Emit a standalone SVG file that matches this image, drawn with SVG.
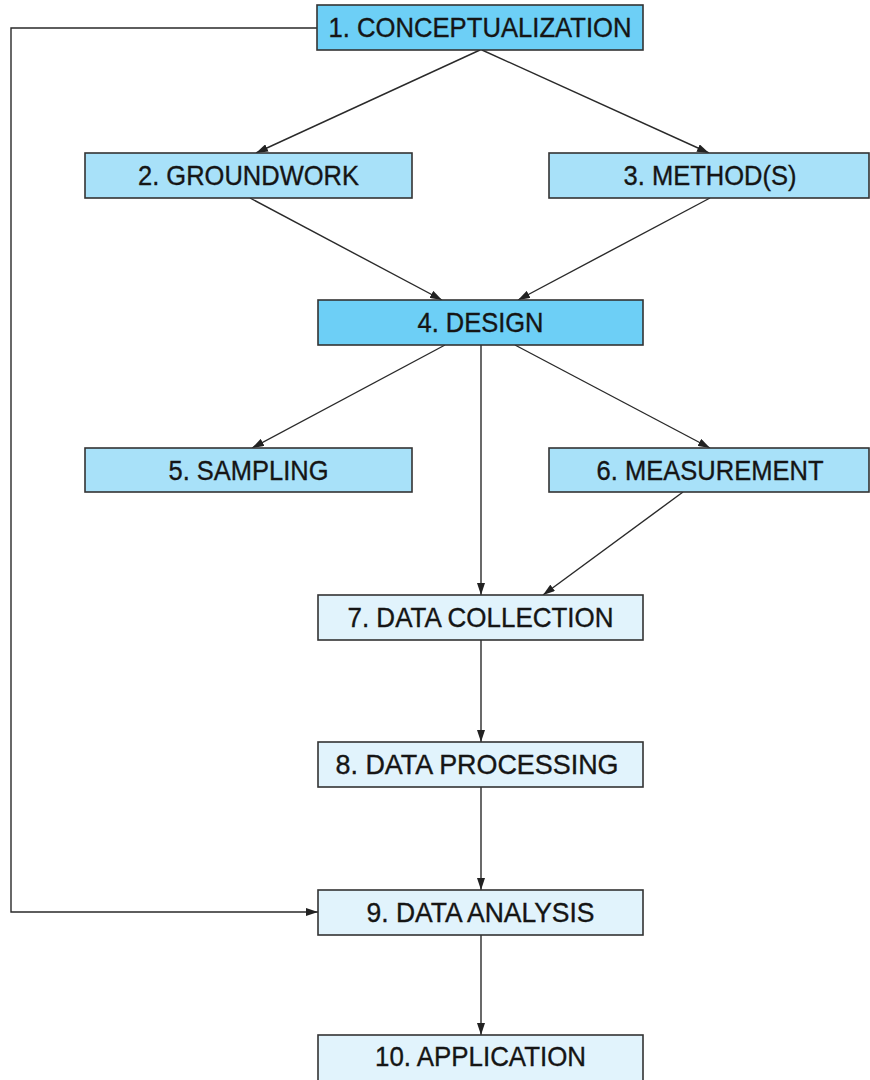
<svg xmlns="http://www.w3.org/2000/svg" width="870" height="1080" viewBox="0 0 870 1080">
<defs>
<marker id="ah" markerUnits="userSpaceOnUse" markerWidth="12" markerHeight="8" refX="12" refY="4" orient="auto">
<path d="M0,0 L12,4 L0,8 z" fill="#222"/>
</marker>
<style>
.box rect{stroke:#333;stroke-width:1.6}
.dark rect{fill:#6dcff6}
.mid rect{fill:#a8e1f9}
.light rect{fill:#e1f3fc}
.box text{font-family:"Liberation Sans",Arial,sans-serif;font-size:27.5px;fill:#151515;stroke:#151515;stroke-width:0.35;text-anchor:middle}
#connectors path,#connectors line{stroke:#2a2a2a;stroke-width:1.4;fill:none;marker-end:url(#ah)}
</style>
</defs>
<rect width="870" height="1080" fill="#fff"/>
<g id="connectors">
<line x1="480" y1="50" x2="256" y2="153"/>
<line x1="482" y1="50" x2="709" y2="153"/>
<line x1="250" y1="198" x2="442" y2="300"/>
<line x1="710" y1="198" x2="518" y2="300"/>
<line x1="445" y1="345" x2="252" y2="448"/>
<line x1="481" y1="345" x2="481" y2="595"/>
<line x1="515" y1="345" x2="710" y2="448"/>
<line x1="683" y1="492" x2="543" y2="595"/>
<line x1="481" y1="640" x2="481" y2="742"/>
<line x1="481" y1="787" x2="481" y2="890"/>
<line x1="481" y1="935" x2="481" y2="1035"/>
<path d="M317,28 L11,28 L11,912 L318,912"/>
</g>
<g id="n1" class="box dark"><rect x="317" y="5" width="326" height="45"/><text x="480" y="37.3" textLength="303" lengthAdjust="spacingAndGlyphs">1. CONCEPTUALIZATION</text></g>
<g id="n2" class="box mid"><rect x="85" y="153" width="327" height="45"/><text x="248.5" y="185.3" textLength="221" lengthAdjust="spacingAndGlyphs">2. GROUNDWORK</text></g>
<g id="n3" class="box mid"><rect x="549" y="153" width="320" height="45"/><text x="710" y="185.3" textLength="173" lengthAdjust="spacingAndGlyphs">3. METHOD(S)</text></g>
<g id="n4" class="box dark"><rect x="318" y="300" width="325" height="45"/><text x="480.5" y="332.3" textLength="126" lengthAdjust="spacingAndGlyphs">4. DESIGN</text></g>
<g id="n5" class="box mid"><rect x="85" y="448" width="327" height="44"/><text x="248.5" y="479.8" textLength="160" lengthAdjust="spacingAndGlyphs">5. SAMPLING</text></g>
<g id="n6" class="box mid"><rect x="549" y="448" width="320" height="44"/><text x="710" y="479.8" textLength="227" lengthAdjust="spacingAndGlyphs">6. MEASUREMENT</text></g>
<g id="n7" class="box light"><rect x="318" y="595" width="325" height="45"/><text x="480.5" y="627.3" textLength="266" lengthAdjust="spacingAndGlyphs">7. DATA COLLECTION</text></g>
<g id="n8" class="box light"><rect x="318" y="742" width="325" height="45"/><text x="477" y="774.3" textLength="283" lengthAdjust="spacingAndGlyphs">8. DATA PROCESSING</text></g>
<g id="n9" class="box light"><rect x="318" y="890" width="325" height="45"/><text x="480.5" y="922.3" textLength="228" lengthAdjust="spacingAndGlyphs">9. DATA ANALYSIS</text></g>
<g id="n10" class="box light"><rect x="318" y="1035" width="325" height="50"/><text x="480.5" y="1066" textLength="211" lengthAdjust="spacingAndGlyphs">10. APPLICATION</text></g>
</svg>
